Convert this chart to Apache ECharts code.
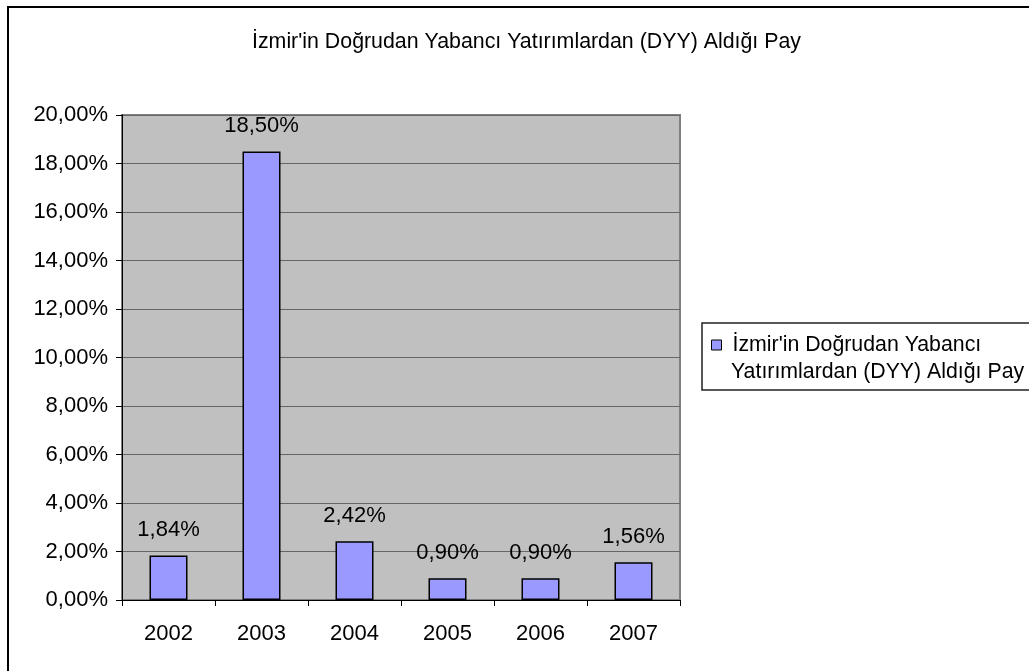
<!DOCTYPE html>
<html>
<head>
<meta charset="utf-8">
<title>İzmir'in Doğrudan Yabancı Yatırımlardan (DYY) Aldığı Pay</title>
<script src="https://cdn.jsdelivr.net/npm/echarts@6/dist/echarts.min.js"></script>
<style>
  html, body { margin: 0; padding: 0; background: #fff; }
  #chart { width: 1029px; height: 671px; }
</style>
</head>
<body>
<div id="chart"></div>
<script>
// Years on the category axis
const years = ['2002', '2003', '2004', '2005', '2006', '2007'];
// Share of foreign direct investment received by İzmir, in percent
const shares = [1.84, 18.50, 2.42, 0.90, 0.90, 1.56];
// Value axis ticks (percent)
const yMin = 0;
const yMax = 20;
const yStep = 2;

const seriesName = "İzmir'in Doğrudan Yabancı Yatırımlardan (DYY) Aldığı Pay";
// The legend entry wraps onto two lines
const legendLine1 = "İzmir'in Doğrudan Yabancı";
const legendLine2 = "Yatırımlardan (DYY) Aldığı Pay";

const FONT = "'Liberation Sans', Arial, sans-serif";
const pct = v => Number(v).toFixed(2).replace('.', ',') + '%';

const chart = echarts.init(document.getElementById('chart'), null, { renderer: 'canvas' });

chart.setOption({
  animation: false,
  backgroundColor: '#ffffff',
  textStyle: { fontFamily: FONT, color: '#000' },
  title: {
    text: seriesName,
    left: 247,
    top: 27,
    textStyle: { fontFamily: FONT, fontSize: 21.35, fontWeight: 'normal', color: '#000' }
  },
  graphic: [
    {
      // chart frame
      type: 'rect', silent: true, z: -10,
      shape: { x: 8, y: 7, width: 1200, height: 900 },
      style: { fill: 'none', stroke: '#000', lineWidth: 2 }
    },
    {
      // legend frame
      type: 'rect', silent: true, z: -5,
      shape: { x: 702, y: 323, width: 400, height: 67 },
      style: { fill: '#fff', stroke: '#222', lineWidth: 1.5 }
    },
    {
      // second line of the legend entry
      type: 'text', silent: true, z: 10,
      x: 731, y: 372,
      style: {
        text: legendLine2,
        font: "21.3px 'Liberation Sans', Arial, sans-serif",
        fill: '#000',
        verticalAlign: 'middle',
        align: 'left'
      }
    }
  ],
  legend: {
    left: 711,
    top: 331,
    padding: 0,
    icon: 'rect',
    itemWidth: 10,
    itemHeight: 10,
    itemGap: 10,
    itemStyle: { color: '#9999FF', borderColor: '#000', borderWidth: 1 },
    formatter: () => legendLine1,
    textStyle: {
      fontFamily: FONT,
      fontSize: 21.3,
      color: '#000',
      lineHeight: 28,
      padding: [0, 0, 0, 6]
    }
  },
  grid: {
    left: 122,
    top: 115,
    width: 558,
    height: 485,
    show: true,
    backgroundColor: '#C0C0C0',
    borderColor: '#808080',
    borderWidth: 2
  },
  xAxis: {
    type: 'category',
    data: years,
    axisLine: { lineStyle: { color: '#000', width: 1 } },
    axisTick: { show: true, alignWithLabel: false, length: 6, lineStyle: { color: '#000' } },
    axisLabel: { margin: 23, fontFamily: FONT, fontSize: 22, color: '#000' },
    splitLine: { show: false }
  },
  yAxis: {
    type: 'value',
    min: yMin,
    max: yMax,
    interval: yStep,
    axisLine: { show: true, lineStyle: { color: '#000', width: 1 } },
    axisTick: { show: true, length: 6, lineStyle: { color: '#000' } },
    axisLabel: { margin: 14, fontFamily: FONT, fontSize: 22, color: '#000', formatter: pct },
    splitLine: { show: true, lineStyle: { color: '#666666', width: 1.2 } }
  },
  series: [{
    name: seriesName,
    type: 'bar',
    data: shares,
    barWidth: 38,
    itemStyle: { color: '#9999FF', borderColor: '#000', borderWidth: 1.5 },
    label: {
      show: true,
      position: 'top',
      distance: 14,
      fontFamily: FONT,
      fontSize: 22,
      color: '#000',
      formatter: p => pct(p.value)
    }
  }]
});
</script>
</body>
</html>
